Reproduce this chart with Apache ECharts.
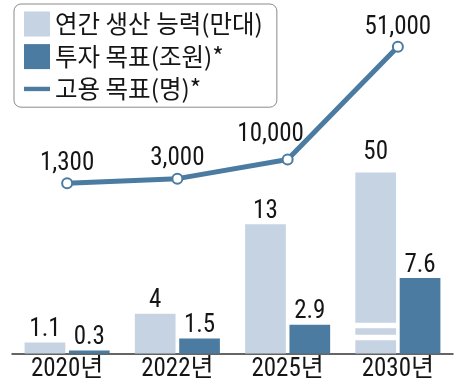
<!DOCTYPE html>
<html><head><meta charset="utf-8">
<script src="https://cdn.jsdelivr.net/npm/echarts@6/dist/echarts.min.js"></script>
<style>html,body{margin:0;padding:0;background:#fff}#c{width:460px;height:384px}</style>
</head><body><div id="c"></div>
<script>
const categories = ['2020년', '2022년', '2025년', '2030년'];
const capacity = [1.1, 4, 13, 50];          // 연간 생산 능력(만대)
const investment = [0.3, 1.5, 2.9, 7.6];    // 투자 목표(조원)*
const employment = [1300, 3000, 10000, 51000]; // 고용 목표(명)*
const seriesNames = ['연간 생산 능력(만대)', '투자 목표(조원)*', '고용 목표(명)*'];

const LIGHT = '#c5d3e3', DARK = '#4b7ba1', TXT = '#151515';
const NUMFONT = "Roboto,'Noto Sans CJK KR',sans-serif";
const COND = 'condensed';
const AXMAX = 20;
const capNormal = capacity.map(v => v <= AXMAX ? v : '-');
const capBroken = capacity.map(v => v > AXMAX ? v : '-');
const blank = capacity.map(() => '-');

const barW = 40.7, barGap = '9%';
const numLabel = {show: true, position: 'top', distance: 0, color: TXT, fontSize: 25, fontWeight: COND, fontFamily: NUMFONT};

const chart = echarts.init(document.getElementById('c'), null, {renderer: 'canvas'});
chart.setOption({
  animation: false,
  backgroundColor: '#fff',
  legend: {
    orient: 'vertical', left: 14, top: 4,
    padding: [7.5, 14, 6, 10],
    borderColor: '#8a8a8a', borderWidth: 1, borderRadius: 7,
    itemWidth: 26, itemHeight: 25, itemGap: 7.6,
    textStyle: {fontSize: 24.5, color: TXT, fontFamily: "'Noto Sans CJK KR',sans-serif"},
    data: [
      {name: seriesNames[0], icon: 'rect', itemStyle: {color: LIGHT}},
      {name: seriesNames[1], icon: 'rect', itemStyle: {color: DARK}},
      {name: seriesNames[2], icon: 'path://M0,0h26v4.4h-26z', itemStyle: {color: DARK}}
    ]
  },
  grid: [
    {left: 12, right: 7, top: 154.5, bottom: 30.5},
    {left: 12, right: 7, top: 22.1, bottom: 197.1}
  ],
  xAxis: [
    {type: 'category', gridIndex: 0, data: categories,
     axisLine: {lineStyle: {color: '#333', width: 1.5}}, axisTick: {show: false},
     axisLabel: {margin: 4, color: TXT, fontSize: 25, fontWeight: COND, fontFamily: NUMFONT}},
    {type: 'category', gridIndex: 0, data: categories, position: 'top', show: false},
    {type: 'category', gridIndex: 1, data: categories, show: false}
  ],
  yAxis: [
    {type: 'value', gridIndex: 0, min: 0, max: AXMAX, show: false},
    {type: 'value', gridIndex: 0, min: 0, max: 51.82, position: 'right', show: true,
     axisLine: {show: false}, axisTick: {show: false}, axisLabel: {show: false}, splitLine: {show: false},
     breaks: [{start: 1.61, end: 34.66, gap: 1.23}],
     breakArea: {show: true, zigzagAmplitude: 0, zigzagZ: 2, expandOnClick: false,
       itemStyle: {color: 'rgba(0,0,0,0)', borderColor: '#fff', borderWidth: 5.5, borderType: 'solid', opacity: 1}}},
    {type: 'value', gridIndex: 1, min: 0, max: 60000, show: false}
  ],
  series: [
    {name: seriesNames[0], type: 'bar', xAxisIndex: 0, yAxisIndex: 0, data: capNormal,
     barWidth: barW, barGap: barGap, z: 3, itemStyle: {color: LIGHT}, label: numLabel},
    {name: seriesNames[1], type: 'bar', xAxisIndex: 0, yAxisIndex: 0, data: investment,
     barWidth: barW, barGap: barGap, z: 3, itemStyle: {color: DARK}, label: numLabel},
    {name: seriesNames[0], type: 'bar', xAxisIndex: 1, yAxisIndex: 1, data: capBroken,
     barWidth: barW, barGap: barGap, z: 1, itemStyle: {color: LIGHT},
     label: Object.assign({}, numLabel, {distance: 7})},
    {name: '_pad', type: 'bar', xAxisIndex: 1, yAxisIndex: 1, data: blank,
     barWidth: barW, barGap: barGap, z: 1},
    {name: seriesNames[2], type: 'line', xAxisIndex: 2, yAxisIndex: 2, z: 5,
     data: employment.map((v, i) => i === 2 ? {value: v, label: {offset: [-17, -5]}} : v),
     symbol: 'emptyCircle', symbolSize: 10,
     lineStyle: {color: DARK, width: 5}, itemStyle: {color: DARK, borderWidth: 3},
     label: {show: true, position: 'top', distance: 1, color: TXT, fontSize: 25, fontWeight: COND, fontFamily: NUMFONT,
       formatter: p => p.value.toLocaleString('en-US')}}
  ]
});
</script></body></html>
